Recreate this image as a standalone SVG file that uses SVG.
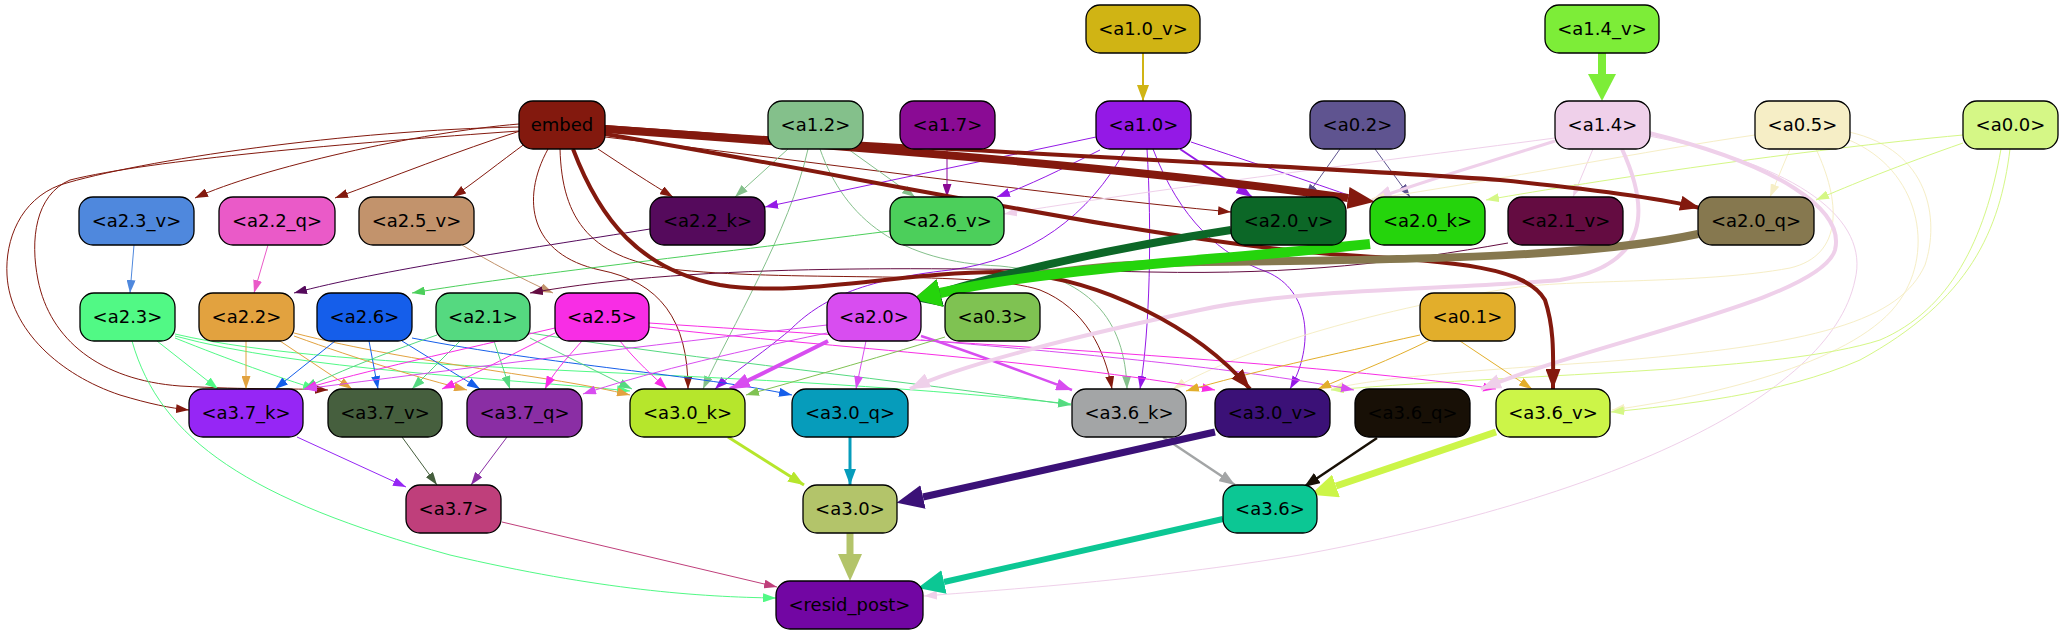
<svg xmlns="http://www.w3.org/2000/svg" width="2063" height="635" viewBox="0 0 2063 635">
<style>
.n{stroke:#000;stroke-width:1.3}
.t{font-family:"DejaVu Sans",sans-serif;font-size:18px;text-anchor:middle;fill:#000}
#edges path{fill:none}
</style>
<defs>
<marker id="s-83190e" viewBox="0 0 13 9" refX="13" refY="4.5" markerWidth="13" markerHeight="9" markerUnits="userSpaceOnUse" orient="auto"><path d="M0,0L13,4.5L0,9z" fill="#83190e"/></marker>
<marker id="s-4f88dd" viewBox="0 0 13 9" refX="13" refY="4.5" markerWidth="13" markerHeight="9" markerUnits="userSpaceOnUse" orient="auto"><path d="M0,0L13,4.5L0,9z" fill="#4f88dd"/></marker>
<marker id="s-ea5ac8" viewBox="0 0 13 9" refX="13" refY="4.5" markerWidth="13" markerHeight="9" markerUnits="userSpaceOnUse" orient="auto"><path d="M0,0L13,4.5L0,9z" fill="#ea5ac8"/></marker>
<marker id="s-c2936c" viewBox="0 0 13 9" refX="13" refY="4.5" markerWidth="13" markerHeight="9" markerUnits="userSpaceOnUse" orient="auto"><path d="M0,0L13,4.5L0,9z" fill="#c2936c"/></marker>
<marker id="s-550a5c" viewBox="0 0 13 9" refX="13" refY="4.5" markerWidth="13" markerHeight="9" markerUnits="userSpaceOnUse" orient="auto"><path d="M0,0L13,4.5L0,9z" fill="#550a5c"/></marker>
<marker id="s-4ccf5b" viewBox="0 0 13 9" refX="13" refY="4.5" markerWidth="13" markerHeight="9" markerUnits="userSpaceOnUse" orient="auto"><path d="M0,0L13,4.5L0,9z" fill="#4ccf5b"/></marker>
<marker id="s-640c41" viewBox="0 0 13 9" refX="13" refY="4.5" markerWidth="13" markerHeight="9" markerUnits="userSpaceOnUse" orient="auto"><path d="M0,0L13,4.5L0,9z" fill="#640c41"/></marker>
<marker id="s-84c08b" viewBox="0 0 13 9" refX="13" refY="4.5" markerWidth="13" markerHeight="9" markerUnits="userSpaceOnUse" orient="auto"><path d="M0,0L13,4.5L0,9z" fill="#84c08b"/></marker>
<marker id="s-8a0b94" viewBox="0 0 13 9" refX="13" refY="4.5" markerWidth="13" markerHeight="9" markerUnits="userSpaceOnUse" orient="auto"><path d="M0,0L13,4.5L0,9z" fill="#8a0b94"/></marker>
<marker id="s-9419e6" viewBox="0 0 13 9" refX="13" refY="4.5" markerWidth="13" markerHeight="9" markerUnits="userSpaceOnUse" orient="auto"><path d="M0,0L13,4.5L0,9z" fill="#9419e6"/></marker>
<marker id="s-5f5490" viewBox="0 0 13 9" refX="13" refY="4.5" markerWidth="13" markerHeight="9" markerUnits="userSpaceOnUse" orient="auto"><path d="M0,0L13,4.5L0,9z" fill="#5f5490"/></marker>
<marker id="s-efd0ea" viewBox="0 0 13 9" refX="13" refY="4.5" markerWidth="13" markerHeight="9" markerUnits="userSpaceOnUse" orient="auto"><path d="M0,0L13,4.5L0,9z" fill="#efd0ea"/></marker>
<marker id="s-f6eec6" viewBox="0 0 13 9" refX="13" refY="4.5" markerWidth="13" markerHeight="9" markerUnits="userSpaceOnUse" orient="auto"><path d="M0,0L13,4.5L0,9z" fill="#f6eec6"/></marker>
<marker id="s-d5f786" viewBox="0 0 13 9" refX="13" refY="4.5" markerWidth="13" markerHeight="9" markerUnits="userSpaceOnUse" orient="auto"><path d="M0,0L13,4.5L0,9z" fill="#d5f786"/></marker>
<marker id="s-7fc252" viewBox="0 0 13 9" refX="13" refY="4.5" markerWidth="13" markerHeight="9" markerUnits="userSpaceOnUse" orient="auto"><path d="M0,0L13,4.5L0,9z" fill="#7fc252"/></marker>
<marker id="s-e2ae2b" viewBox="0 0 13 9" refX="13" refY="4.5" markerWidth="13" markerHeight="9" markerUnits="userSpaceOnUse" orient="auto"><path d="M0,0L13,4.5L0,9z" fill="#e2ae2b"/></marker>
<marker id="s-d84df0" viewBox="0 0 13 9" refX="13" refY="4.5" markerWidth="13" markerHeight="9" markerUnits="userSpaceOnUse" orient="auto"><path d="M0,0L13,4.5L0,9z" fill="#d84df0"/></marker>
<marker id="s-f82de5" viewBox="0 0 13 9" refX="13" refY="4.5" markerWidth="13" markerHeight="9" markerUnits="userSpaceOnUse" orient="auto"><path d="M0,0L13,4.5L0,9z" fill="#f82de5"/></marker>
<marker id="s-51f985" viewBox="0 0 13 9" refX="13" refY="4.5" markerWidth="13" markerHeight="9" markerUnits="userSpaceOnUse" orient="auto"><path d="M0,0L13,4.5L0,9z" fill="#51f985"/></marker>
<marker id="s-e2a23f" viewBox="0 0 13 9" refX="13" refY="4.5" markerWidth="13" markerHeight="9" markerUnits="userSpaceOnUse" orient="auto"><path d="M0,0L13,4.5L0,9z" fill="#e2a23f"/></marker>
<marker id="s-155eea" viewBox="0 0 13 9" refX="13" refY="4.5" markerWidth="13" markerHeight="9" markerUnits="userSpaceOnUse" orient="auto"><path d="M0,0L13,4.5L0,9z" fill="#155eea"/></marker>
<marker id="s-55d980" viewBox="0 0 13 9" refX="13" refY="4.5" markerWidth="13" markerHeight="9" markerUnits="userSpaceOnUse" orient="auto"><path d="M0,0L13,4.5L0,9z" fill="#55d980"/></marker>
<marker id="s-9626f5" viewBox="0 0 13 9" refX="13" refY="4.5" markerWidth="13" markerHeight="9" markerUnits="userSpaceOnUse" orient="auto"><path d="M0,0L13,4.5L0,9z" fill="#9626f5"/></marker>
<marker id="s-465f3e" viewBox="0 0 13 9" refX="13" refY="4.5" markerWidth="13" markerHeight="9" markerUnits="userSpaceOnUse" orient="auto"><path d="M0,0L13,4.5L0,9z" fill="#465f3e"/></marker>
<marker id="s-8a2ea4" viewBox="0 0 13 9" refX="13" refY="4.5" markerWidth="13" markerHeight="9" markerUnits="userSpaceOnUse" orient="auto"><path d="M0,0L13,4.5L0,9z" fill="#8a2ea4"/></marker>
<marker id="s-bf3f7b" viewBox="0 0 13 9" refX="13" refY="4.5" markerWidth="13" markerHeight="9" markerUnits="userSpaceOnUse" orient="auto"><path d="M0,0L13,4.5L0,9z" fill="#bf3f7b"/></marker>
<marker id="m-d0b414" viewBox="0 0 16 12" refX="16" refY="6" markerWidth="16" markerHeight="12" markerUnits="userSpaceOnUse" orient="auto"><path d="M0,0L16,6L0,12z" fill="#d0b414"/></marker>
<marker id="m-9419e6" viewBox="0 0 16 12" refX="16" refY="6" markerWidth="16" markerHeight="12" markerUnits="userSpaceOnUse" orient="auto"><path d="M0,0L16,6L0,12z" fill="#9419e6"/></marker>
<marker id="m-d84df0" viewBox="0 0 16 12" refX="16" refY="6" markerWidth="16" markerHeight="12" markerUnits="userSpaceOnUse" orient="auto"><path d="M0,0L16,6L0,12z" fill="#d84df0"/></marker>
<marker id="m-b6e62c" viewBox="0 0 16 12" refX="16" refY="6" markerWidth="16" markerHeight="12" markerUnits="userSpaceOnUse" orient="auto"><path d="M0,0L16,6L0,12z" fill="#b6e62c"/></marker>
<marker id="m-069cbb" viewBox="0 0 16 12" refX="16" refY="6" markerWidth="16" markerHeight="12" markerUnits="userSpaceOnUse" orient="auto"><path d="M0,0L16,6L0,12z" fill="#069cbb"/></marker>
<marker id="m-a3a5a6" viewBox="0 0 16 12" refX="16" refY="6" markerWidth="16" markerHeight="12" markerUnits="userSpaceOnUse" orient="auto"><path d="M0,0L16,6L0,12z" fill="#a3a5a6"/></marker>
<marker id="m-181006" viewBox="0 0 16 12" refX="16" refY="6" markerWidth="16" markerHeight="12" markerUnits="userSpaceOnUse" orient="auto"><path d="M0,0L16,6L0,12z" fill="#181006"/></marker>
<marker id="l-83190e" viewBox="0 0 20 15" refX="20" refY="7.5" markerWidth="20" markerHeight="15" markerUnits="userSpaceOnUse" orient="auto"><path d="M0,0L20,7.5L0,15z" fill="#83190e"/></marker>
<marker id="l-efd0ea" viewBox="0 0 20 15" refX="20" refY="7.5" markerWidth="20" markerHeight="15" markerUnits="userSpaceOnUse" orient="auto"><path d="M0,0L20,7.5L0,15z" fill="#efd0ea"/></marker>
<marker id="l-d84df0" viewBox="0 0 20 15" refX="20" refY="7.5" markerWidth="20" markerHeight="15" markerUnits="userSpaceOnUse" orient="auto"><path d="M0,0L20,7.5L0,15z" fill="#d84df0"/></marker>
<marker id="x-7ded38" viewBox="0 0 27 28" refX="0" refY="14" markerWidth="27" markerHeight="28" markerUnits="userSpaceOnUse" orient="auto"><path d="M0,0L27,14L0,28z" fill="#7ded38"/></marker>
<marker id="x-25d40c" viewBox="0 0 27 28" refX="0" refY="14" markerWidth="27" markerHeight="28" markerUnits="userSpaceOnUse" orient="auto"><path d="M0,0L27,14L0,28z" fill="#25d40c"/></marker>
<marker id="x-0c6727" viewBox="0 0 27 28" refX="0" refY="14" markerWidth="27" markerHeight="28" markerUnits="userSpaceOnUse" orient="auto"><path d="M0,0L27,14L0,28z" fill="#0c6727"/></marker>
<marker id="x-86784f" viewBox="0 0 27 28" refX="0" refY="14" markerWidth="27" markerHeight="28" markerUnits="userSpaceOnUse" orient="auto"><path d="M0,0L27,14L0,28z" fill="#86784f"/></marker>
<marker id="x-3b1177" viewBox="0 0 27 24" refX="0" refY="12" markerWidth="27" markerHeight="24" markerUnits="userSpaceOnUse" orient="auto"><path d="M0,0L27,12L0,24z" fill="#3b1177"/></marker>
<marker id="x-ccf548" viewBox="0 0 27 24" refX="0" refY="12" markerWidth="27" markerHeight="24" markerUnits="userSpaceOnUse" orient="auto"><path d="M0,0L27,12L0,24z" fill="#ccf548"/></marker>
<marker id="x-b3c46a" viewBox="0 0 27 24" refX="0" refY="12" markerWidth="27" markerHeight="24" markerUnits="userSpaceOnUse" orient="auto"><path d="M0,0L27,12L0,24z" fill="#b3c46a"/></marker>
<marker id="x-0cc794" viewBox="0 0 27 24" refX="0" refY="12" markerWidth="27" markerHeight="24" markerUnits="userSpaceOnUse" orient="auto"><path d="M0,0L27,12L0,24z" fill="#0cc794"/></marker>
<marker id="x-83190e" viewBox="0 0 27 22" refX="0" refY="11" markerWidth="27" markerHeight="22" markerUnits="userSpaceOnUse" orient="auto"><path d="M0,0L27,11L0,22z" fill="#83190e"/></marker>
</defs>
<rect width="2063" height="635" fill="#fff"/>
<g id="edges">
<path d="M519,124 C420,132 260,168 195,198" stroke="#83190e" marker-end="url(#s-83190e)"/>
<path d="M520,131 C460,150 390,178 335,198" stroke="#83190e" marker-end="url(#s-83190e)"/>
<path d="M526,143 C500,162 475,182 453,197" stroke="#83190e" marker-end="url(#s-83190e)"/>
<path d="M598,149 C625,167 650,183 673,197" stroke="#83190e" marker-end="url(#s-83190e)"/>
<path d="M519,127 C350,130 140,160 60,185 C20,200 5,240 7,275 C10,330 60,375 120,395 C150,404 170,408 189,410" stroke="#83190e" marker-end="url(#s-83190e)"/>
<path d="M519,131 C350,143 150,160 70,180 C35,195 30,240 38,280 C50,340 100,380 180,386 C250,390 290,388 328,390" stroke="#83190e" marker-end="url(#s-83190e)"/>
<path d="M548,149 C520,200 530,255 600,270 C660,282 688,320 688,389" stroke="#83190e" marker-end="url(#s-83190e)"/>
<path d="M560,149 C562,220 590,260 680,270 C800,282 980,270 1040,290 C1085,308 1105,350 1112,389" stroke="#83190e" marker-end="url(#s-83190e)"/>
<path d="M605,137 C800,160 1050,195 1231,212" stroke="#83190e" marker-end="url(#s-83190e)"/>
<path d="M1143,53 L1143,101" stroke="#d0b414" stroke-width="2" marker-end="url(#m-d0b414)"/>
<path d="M788,149 L735,197" stroke="#84c08b" marker-end="url(#s-84c08b)"/>
<path d="M848,149 L915,197" stroke="#84c08b" marker-end="url(#s-84c08b)"/>
<path d="M808,149 C790,230 730,330 703,389" stroke="#84c08b" marker-end="url(#s-84c08b)"/>
<path d="M820,149 C845,220 900,262 1000,266 C1090,275 1125,320 1127,389" stroke="#84c08b" marker-end="url(#s-84c08b)"/>
<path d="M947,149 L947,197" stroke="#8a0b94" marker-end="url(#s-8a0b94)"/>
<path d="M1096,137 L765,207" stroke="#9419e6" marker-end="url(#s-9419e6)"/>
<path d="M1100,150 C1060,170 1030,185 997,197" stroke="#9419e6" marker-end="url(#s-9419e6)"/>
<path d="M1180,149 L1252,197" stroke="#9419e6" stroke-width="2" marker-end="url(#m-9419e6)"/>
<path d="M1191,142 C1260,165 1320,185 1368,202" stroke="#9419e6" marker-end="url(#s-9419e6)"/>
<path d="M1125,150 C1090,215 1030,260 950,270 C860,280 820,300 790,330 C760,355 730,375 715,389" stroke="#9419e6" marker-end="url(#s-9419e6)"/>
<path d="M1147,149 C1152,230 1150,330 1140,389" stroke="#9419e6" marker-end="url(#s-9419e6)"/>
<path d="M1153,149 C1180,220 1220,255 1267,272 C1310,290 1315,345 1290,389" stroke="#9419e6" marker-end="url(#s-9419e6)"/>
<path d="M1340,149 L1306,197" stroke="#5f5490" marker-end="url(#s-5f5490)"/>
<path d="M1375,149 L1410,197" stroke="#5f5490" marker-end="url(#s-5f5490)"/>
<path d="M1593,149 L1573,197" stroke="#efd0ea" marker-end="url(#s-efd0ea)"/>
<path d="M1555,138 C1350,165 1150,190 1004,214" stroke="#efd0ea" marker-end="url(#s-efd0ea)"/>
<path d="M1555,141 C1480,165 1420,182 1372,200" stroke="#efd0ea" stroke-width="3" marker-end="url(#l-efd0ea)"/>
<path d="M1649,136 C1800,165 1870,220 1855,280 C1830,400 1600,500 1300,555 C1150,580 1000,590 924,596" stroke="#efd0ea" marker-end="url(#s-efd0ea)"/>
<path d="M1755,135 C1650,150 1500,180 1372,199" stroke="#f6eec6" marker-end="url(#s-f6eec6)"/>
<path d="M1790,149 L1770,197" stroke="#f6eec6" marker-end="url(#s-f6eec6)"/>
<path d="M1816,149 C1840,200 1845,255 1790,268 C1700,285 1560,278 1500,290 C1350,315 1230,355 1173,389" stroke="#f6eec6" marker-end="url(#s-f6eec6)"/>
<path d="M1849,140 C1920,170 1935,250 1900,300 C1860,360 1720,395 1612,410" stroke="#f6eec6" marker-end="url(#s-f6eec6)"/>
<path d="M1849,132 C1930,150 1940,220 1925,265 C1900,320 1820,345 1600,362 C1450,372 1380,378 1331,389" stroke="#f6eec6" marker-end="url(#s-f6eec6)"/>
<path d="M1963,135 C1800,150 1600,180 1486,200" stroke="#d5f786" marker-end="url(#s-d5f786)"/>
<path d="M1963,143 C1900,165 1850,185 1816,200" stroke="#d5f786" marker-end="url(#s-d5f786)"/>
<path d="M2010,149 C2000,230 1970,300 1860,360 C1780,395 1680,405 1611,412" stroke="#d5f786" marker-end="url(#s-d5f786)"/>
<path d="M2001,149 C1985,240 1950,310 1880,340 C1780,372 1550,372 1331,390" stroke="#d5f786" marker-end="url(#s-d5f786)"/>
<path d="M134,245 L130,293" stroke="#4f88dd" marker-end="url(#s-4f88dd)"/>
<path d="M268,245 L254,293" stroke="#ea5ac8" marker-end="url(#s-ea5ac8)"/>
<path d="M462,245 C490,262 520,278 553,293" stroke="#c2936c" marker-end="url(#s-c2936c)"/>
<path d="M650,229 C520,250 380,270 294,293" stroke="#550a5c" marker-end="url(#s-550a5c)"/>
<path d="M890,231 C700,255 520,275 412,293" stroke="#4ccf5b" marker-end="url(#s-4ccf5b)"/>
<path d="M1508,243 C1400,262 1300,275 1150,272 C950,268 700,262 530,293" stroke="#640c41" marker-end="url(#s-640c41)"/>
<path d="M157,341 L218,389" stroke="#51f985" marker-end="url(#s-51f985)"/>
<path d="M175,338 C230,360 280,378 316,389" stroke="#51f985" marker-end="url(#s-51f985)"/>
<path d="M132,341 C160,440 250,500 450,555 C600,590 700,597 776,598" stroke="#51f985" marker-end="url(#s-51f985)"/>
<path d="M175,336 C300,370 500,378 630,391" stroke="#51f985" marker-end="url(#s-51f985)"/>
<path d="M175,334 C350,375 700,365 1071,404" stroke="#51f985" marker-end="url(#s-51f985)"/>
<path d="M246,341 L246,389" stroke="#e2a23f" marker-end="url(#s-e2a23f)"/>
<path d="M280,341 L352,389" stroke="#e2a23f" marker-end="url(#s-e2a23f)"/>
<path d="M294,336 C360,360 420,378 467,390" stroke="#e2a23f" marker-end="url(#s-e2a23f)"/>
<path d="M294,333 C420,365 550,375 630,395" stroke="#e2a23f" marker-end="url(#s-e2a23f)"/>
<path d="M335,341 L275,389" stroke="#155eea" marker-end="url(#s-155eea)"/>
<path d="M369,341 L378,389" stroke="#155eea" marker-end="url(#s-155eea)"/>
<path d="M402,341 L480,389" stroke="#155eea" marker-end="url(#s-155eea)"/>
<path d="M412,338 C550,365 700,375 792,395" stroke="#155eea" marker-end="url(#s-155eea)"/>
<path d="M437,335 C380,355 330,375 304,389" stroke="#55d980" marker-end="url(#s-55d980)"/>
<path d="M460,341 L412,389" stroke="#55d980" marker-end="url(#s-55d980)"/>
<path d="M494,341 L510,389" stroke="#55d980" marker-end="url(#s-55d980)"/>
<path d="M530,338 L632,389" stroke="#55d980" marker-end="url(#s-55d980)"/>
<path d="M530,333 C700,360 900,380 1071,405" stroke="#55d980" marker-end="url(#s-55d980)"/>
<path d="M620,341 C635,360 655,378 667,389" stroke="#f82de5" marker-end="url(#s-f82de5)"/>
<path d="M582,341 C565,360 552,375 545,389" stroke="#f82de5" marker-end="url(#s-f82de5)"/>
<path d="M555,333 C520,350 480,372 442,389" stroke="#f82de5" marker-end="url(#s-f82de5)"/>
<path d="M555,328 C460,350 360,372 304,389" stroke="#f82de5" marker-end="url(#s-f82de5)"/>
<path d="M649,327 C800,345 1050,360 1215,390" stroke="#f82de5" marker-end="url(#s-f82de5)"/>
<path d="M649,323 C900,340 1300,360 1496,389" stroke="#f82de5" marker-end="url(#s-f82de5)"/>
<path d="M866,341 L856,389" stroke="#d84df0" marker-end="url(#s-d84df0)"/>
<path d="M827,333 C720,355 640,375 583,394" stroke="#d84df0" marker-end="url(#s-d84df0)"/>
<path d="M827,325 C650,345 450,370 304,389" stroke="#d84df0" marker-end="url(#s-d84df0)"/>
<path d="M921,340 C1100,355 1250,370 1354,390" stroke="#d84df0" marker-end="url(#s-d84df0)"/>
<path d="M921,336 C980,355 1030,375 1072,390" stroke="#d84df0" stroke-width="2.5" marker-end="url(#m-d84df0)"/>
<path d="M828,341 C790,360 760,375 730,389" stroke="#d84df0" stroke-width="4" marker-end="url(#l-d84df0)"/>
<path d="M945,337 C870,360 800,380 746,395" stroke="#7fc252" marker-end="url(#s-7fc252)"/>
<path d="M1460,341 L1532,389" stroke="#e2ae2b" marker-end="url(#s-e2ae2b)"/>
<path d="M1430,340 C1390,360 1350,375 1318,389" stroke="#e2ae2b" marker-end="url(#s-e2ae2b)"/>
<path d="M1420,335 C1330,355 1250,372 1186,391" stroke="#e2ae2b" marker-end="url(#s-e2ae2b)"/>
<path d="M1622,149 C1650,210 1650,265 1560,280 C1450,290 1300,288 1200,310 C1080,335 960,365 910,389" stroke="#efd0ea" stroke-width="4" marker-end="url(#l-efd0ea)"/>
<path d="M1649,133 C1780,165 1845,210 1835,250 C1820,300 1600,340 1481,389" stroke="#efd0ea" stroke-width="4" marker-end="url(#l-efd0ea)"/>
<path d="M573,149 C600,220 640,270 720,285 C800,298 900,272 1000,272 C1100,275 1200,330 1250,389" stroke="#83190e" stroke-width="4" marker-end="url(#l-83190e)"/>
<path d="M605,134 C850,175 1150,240 1330,254 C1450,262 1525,265 1545,300 C1555,330 1553,360 1553,389" stroke="#83190e" stroke-width="4" marker-end="url(#l-83190e)"/>
<path d="M605,127 C900,150 1300,165 1500,180 C1600,190 1660,198 1700,208" stroke="#83190e" stroke-width="4" marker-end="url(#l-83190e)"/>
<path d="M605,129 C900,150 1150,170 1348,198" stroke="#83190e" stroke-width="8" marker-end="url(#x-83190e)"/>
<path d="M1602,53 L1602,74" stroke="#7ded38" stroke-width="8" marker-end="url(#x-7ded38)"/>
<path d="M1698,234 C1600,255 1450,260 1200,262 C1080,264 1000,280 940,293" stroke="#86784f" stroke-width="8" marker-end="url(#x-86784f)"/>
<path d="M1231,230 C1100,250 1000,275 940,293" stroke="#0c6727" stroke-width="8" marker-end="url(#x-0c6727)"/>
<path d="M1370,244 C1200,262 1050,268 940,293" stroke="#25d40c" stroke-width="10" marker-end="url(#x-25d40c)"/>
<path d="M297,437 L406,487" stroke="#9626f5" marker-end="url(#s-9626f5)"/>
<path d="M402,437 L437,485" stroke="#465f3e" marker-end="url(#s-465f3e)"/>
<path d="M507,437 L471,485" stroke="#8a2ea4" marker-end="url(#s-8a2ea4)"/>
<path d="M502,522 L777,587" stroke="#bf3f7b" marker-end="url(#s-bf3f7b)"/>
<path d="M728,437 L804,485" stroke="#b6e62c" stroke-width="3" marker-end="url(#m-b6e62c)"/>
<path d="M850,437 L850,485" stroke="#069cbb" stroke-width="3" marker-end="url(#m-069cbb)"/>
<path d="M1163,437 L1235,485" stroke="#a3a5a6" stroke-width="2.5" marker-end="url(#m-a3a5a6)"/>
<path d="M1377,438 L1304,487" stroke="#181006" stroke-width="2.5" marker-end="url(#m-181006)"/>
<path d="M1215,432 L923,497" stroke="#3b1177" stroke-width="7" marker-end="url(#x-3b1177)"/>
<path d="M1496,432 L1336,486" stroke="#ccf548" stroke-width="7" marker-end="url(#x-ccf548)"/>
<path d="M850,533 L850,554" stroke="#b3c46a" stroke-width="7" marker-end="url(#x-b3c46a)"/>
<path d="M1223,519 L944,582" stroke="#0cc794" stroke-width="6" marker-end="url(#x-0cc794)"/>
</g>
<g id="node-a1_0_v"><rect class="n" x="1086" y="5" width="114" height="48" rx="14" fill="#d0b414"/><text class="t" x="1143" y="35">&lt;a1.0_v&gt;</text></g>
<g id="node-a1_4_v"><rect class="n" x="1545" y="5" width="114" height="48" rx="14" fill="#7ded38"/><text class="t" x="1602" y="35">&lt;a1.4_v&gt;</text></g>
<g id="node-embed"><rect class="n" x="519" y="101" width="86" height="48" rx="14" fill="#83190e"/><text class="t" x="562" y="131">embed</text></g>
<g id="node-a1_2"><rect class="n" x="768" y="101" width="95" height="48" rx="14" fill="#84c08b"/><text class="t" x="815.5" y="131">&lt;a1.2&gt;</text></g>
<g id="node-a1_7"><rect class="n" x="900" y="101" width="95" height="48" rx="14" fill="#8a0b94"/><text class="t" x="947.5" y="131">&lt;a1.7&gt;</text></g>
<g id="node-a1_0"><rect class="n" x="1096" y="101" width="95" height="48" rx="14" fill="#9419e6"/><text class="t" x="1143.5" y="131">&lt;a1.0&gt;</text></g>
<g id="node-a0_2"><rect class="n" x="1310" y="101" width="95" height="48" rx="14" fill="#5f5490"/><text class="t" x="1357.5" y="131">&lt;a0.2&gt;</text></g>
<g id="node-a1_4"><rect class="n" x="1555" y="101" width="95" height="48" rx="14" fill="#efd0ea"/><text class="t" x="1602.5" y="131">&lt;a1.4&gt;</text></g>
<g id="node-a0_5"><rect class="n" x="1755" y="101" width="95" height="48" rx="14" fill="#f6eec6"/><text class="t" x="1802.5" y="131">&lt;a0.5&gt;</text></g>
<g id="node-a0_0"><rect class="n" x="1963" y="101" width="95" height="48" rx="14" fill="#d5f786"/><text class="t" x="2010.5" y="131">&lt;a0.0&gt;</text></g>
<g id="node-a2_3_v"><rect class="n" x="79" y="197" width="115" height="48" rx="14" fill="#4f88dd"/><text class="t" x="136.5" y="227">&lt;a2.3_v&gt;</text></g>
<g id="node-a2_2_q"><rect class="n" x="219" y="197" width="116" height="48" rx="14" fill="#ea5ac8"/><text class="t" x="277" y="227">&lt;a2.2_q&gt;</text></g>
<g id="node-a2_5_v"><rect class="n" x="359" y="197" width="115" height="48" rx="14" fill="#c2936c"/><text class="t" x="416.5" y="227">&lt;a2.5_v&gt;</text></g>
<g id="node-a2_2_k"><rect class="n" x="650" y="197" width="115" height="48" rx="14" fill="#550a5c"/><text class="t" x="707.5" y="227">&lt;a2.2_k&gt;</text></g>
<g id="node-a2_6_v"><rect class="n" x="890" y="197" width="114" height="48" rx="14" fill="#4ccf5b"/><text class="t" x="947" y="227">&lt;a2.6_v&gt;</text></g>
<g id="node-a2_0_v"><rect class="n" x="1231" y="197" width="115" height="48" rx="14" fill="#0c6727"/><text class="t" x="1288.5" y="227">&lt;a2.0_v&gt;</text></g>
<g id="node-a2_0_k"><rect class="n" x="1370" y="197" width="115" height="48" rx="14" fill="#25d40c"/><text class="t" x="1427.5" y="227">&lt;a2.0_k&gt;</text></g>
<g id="node-a2_1_v"><rect class="n" x="1508" y="197" width="115" height="48" rx="14" fill="#640c41"/><text class="t" x="1565.5" y="227">&lt;a2.1_v&gt;</text></g>
<g id="node-a2_0_q"><rect class="n" x="1698" y="197" width="116" height="48" rx="14" fill="#86784f"/><text class="t" x="1756" y="227">&lt;a2.0_q&gt;</text></g>
<g id="node-a2_3"><rect class="n" x="80" y="293" width="95" height="48" rx="14" fill="#51f985"/><text class="t" x="127.5" y="323">&lt;a2.3&gt;</text></g>
<g id="node-a2_2"><rect class="n" x="199" y="293" width="95" height="48" rx="14" fill="#e2a23f"/><text class="t" x="246.5" y="323">&lt;a2.2&gt;</text></g>
<g id="node-a2_6"><rect class="n" x="317" y="293" width="95" height="48" rx="14" fill="#155eea"/><text class="t" x="364.5" y="323">&lt;a2.6&gt;</text></g>
<g id="node-a2_1"><rect class="n" x="436" y="293" width="94" height="48" rx="14" fill="#55d980"/><text class="t" x="483" y="323">&lt;a2.1&gt;</text></g>
<g id="node-a2_5"><rect class="n" x="555" y="293" width="94" height="48" rx="14" fill="#f82de5"/><text class="t" x="602" y="323">&lt;a2.5&gt;</text></g>
<g id="node-a2_0"><rect class="n" x="827" y="293" width="94" height="48" rx="14" fill="#d84df0"/><text class="t" x="874" y="323">&lt;a2.0&gt;</text></g>
<g id="node-a0_3"><rect class="n" x="945" y="293" width="95" height="48" rx="14" fill="#7fc252"/><text class="t" x="992.5" y="323">&lt;a0.3&gt;</text></g>
<g id="node-a0_1"><rect class="n" x="1420" y="293" width="95" height="48" rx="14" fill="#e2ae2b"/><text class="t" x="1467.5" y="323">&lt;a0.1&gt;</text></g>
<g id="node-a3_7_k"><rect class="n" x="189" y="389" width="114" height="48" rx="14" fill="#9626f5"/><text class="t" x="246" y="419">&lt;a3.7_k&gt;</text></g>
<g id="node-a3_7_v"><rect class="n" x="328" y="389" width="114" height="48" rx="14" fill="#465f3e"/><text class="t" x="385" y="419">&lt;a3.7_v&gt;</text></g>
<g id="node-a3_7_q"><rect class="n" x="467" y="389" width="115" height="48" rx="14" fill="#8a2ea4"/><text class="t" x="524.5" y="419">&lt;a3.7_q&gt;</text></g>
<g id="node-a3_0_k"><rect class="n" x="630" y="389" width="115" height="48" rx="14" fill="#b6e62c"/><text class="t" x="687.5" y="419">&lt;a3.0_k&gt;</text></g>
<g id="node-a3_0_q"><rect class="n" x="792" y="389" width="116" height="48" rx="14" fill="#069cbb"/><text class="t" x="850" y="419">&lt;a3.0_q&gt;</text></g>
<g id="node-a3_6_k"><rect class="n" x="1072" y="389" width="114" height="48" rx="14" fill="#a3a5a6"/><text class="t" x="1129" y="419">&lt;a3.6_k&gt;</text></g>
<g id="node-a3_0_v"><rect class="n" x="1215" y="389" width="115" height="48" rx="14" fill="#3b1177"/><text class="t" x="1272.5" y="419">&lt;a3.0_v&gt;</text></g>
<g id="node-a3_6_q"><rect class="n" x="1355" y="389" width="115" height="48" rx="14" fill="#181006"/><text class="t" x="1412.5" y="419">&lt;a3.6_q&gt;</text></g>
<g id="node-a3_6_v"><rect class="n" x="1496" y="389" width="114" height="48" rx="14" fill="#ccf548"/><text class="t" x="1553" y="419">&lt;a3.6_v&gt;</text></g>
<g id="node-a3_7"><rect class="n" x="406" y="485" width="95" height="48" rx="14" fill="#bf3f7b"/><text class="t" x="453.5" y="515">&lt;a3.7&gt;</text></g>
<g id="node-a3_0"><rect class="n" x="803" y="485" width="94" height="48" rx="14" fill="#b3c46a"/><text class="t" x="850" y="515">&lt;a3.0&gt;</text></g>
<g id="node-a3_6"><rect class="n" x="1223" y="485" width="94" height="48" rx="14" fill="#0cc794"/><text class="t" x="1270" y="515">&lt;a3.6&gt;</text></g>
<g id="node-resid_post"><rect class="n" x="776" y="581" width="147" height="48" rx="14" fill="#7206a3"/><text class="t" x="849.5" y="611">&lt;resid_post&gt;</text></g>
</svg>
